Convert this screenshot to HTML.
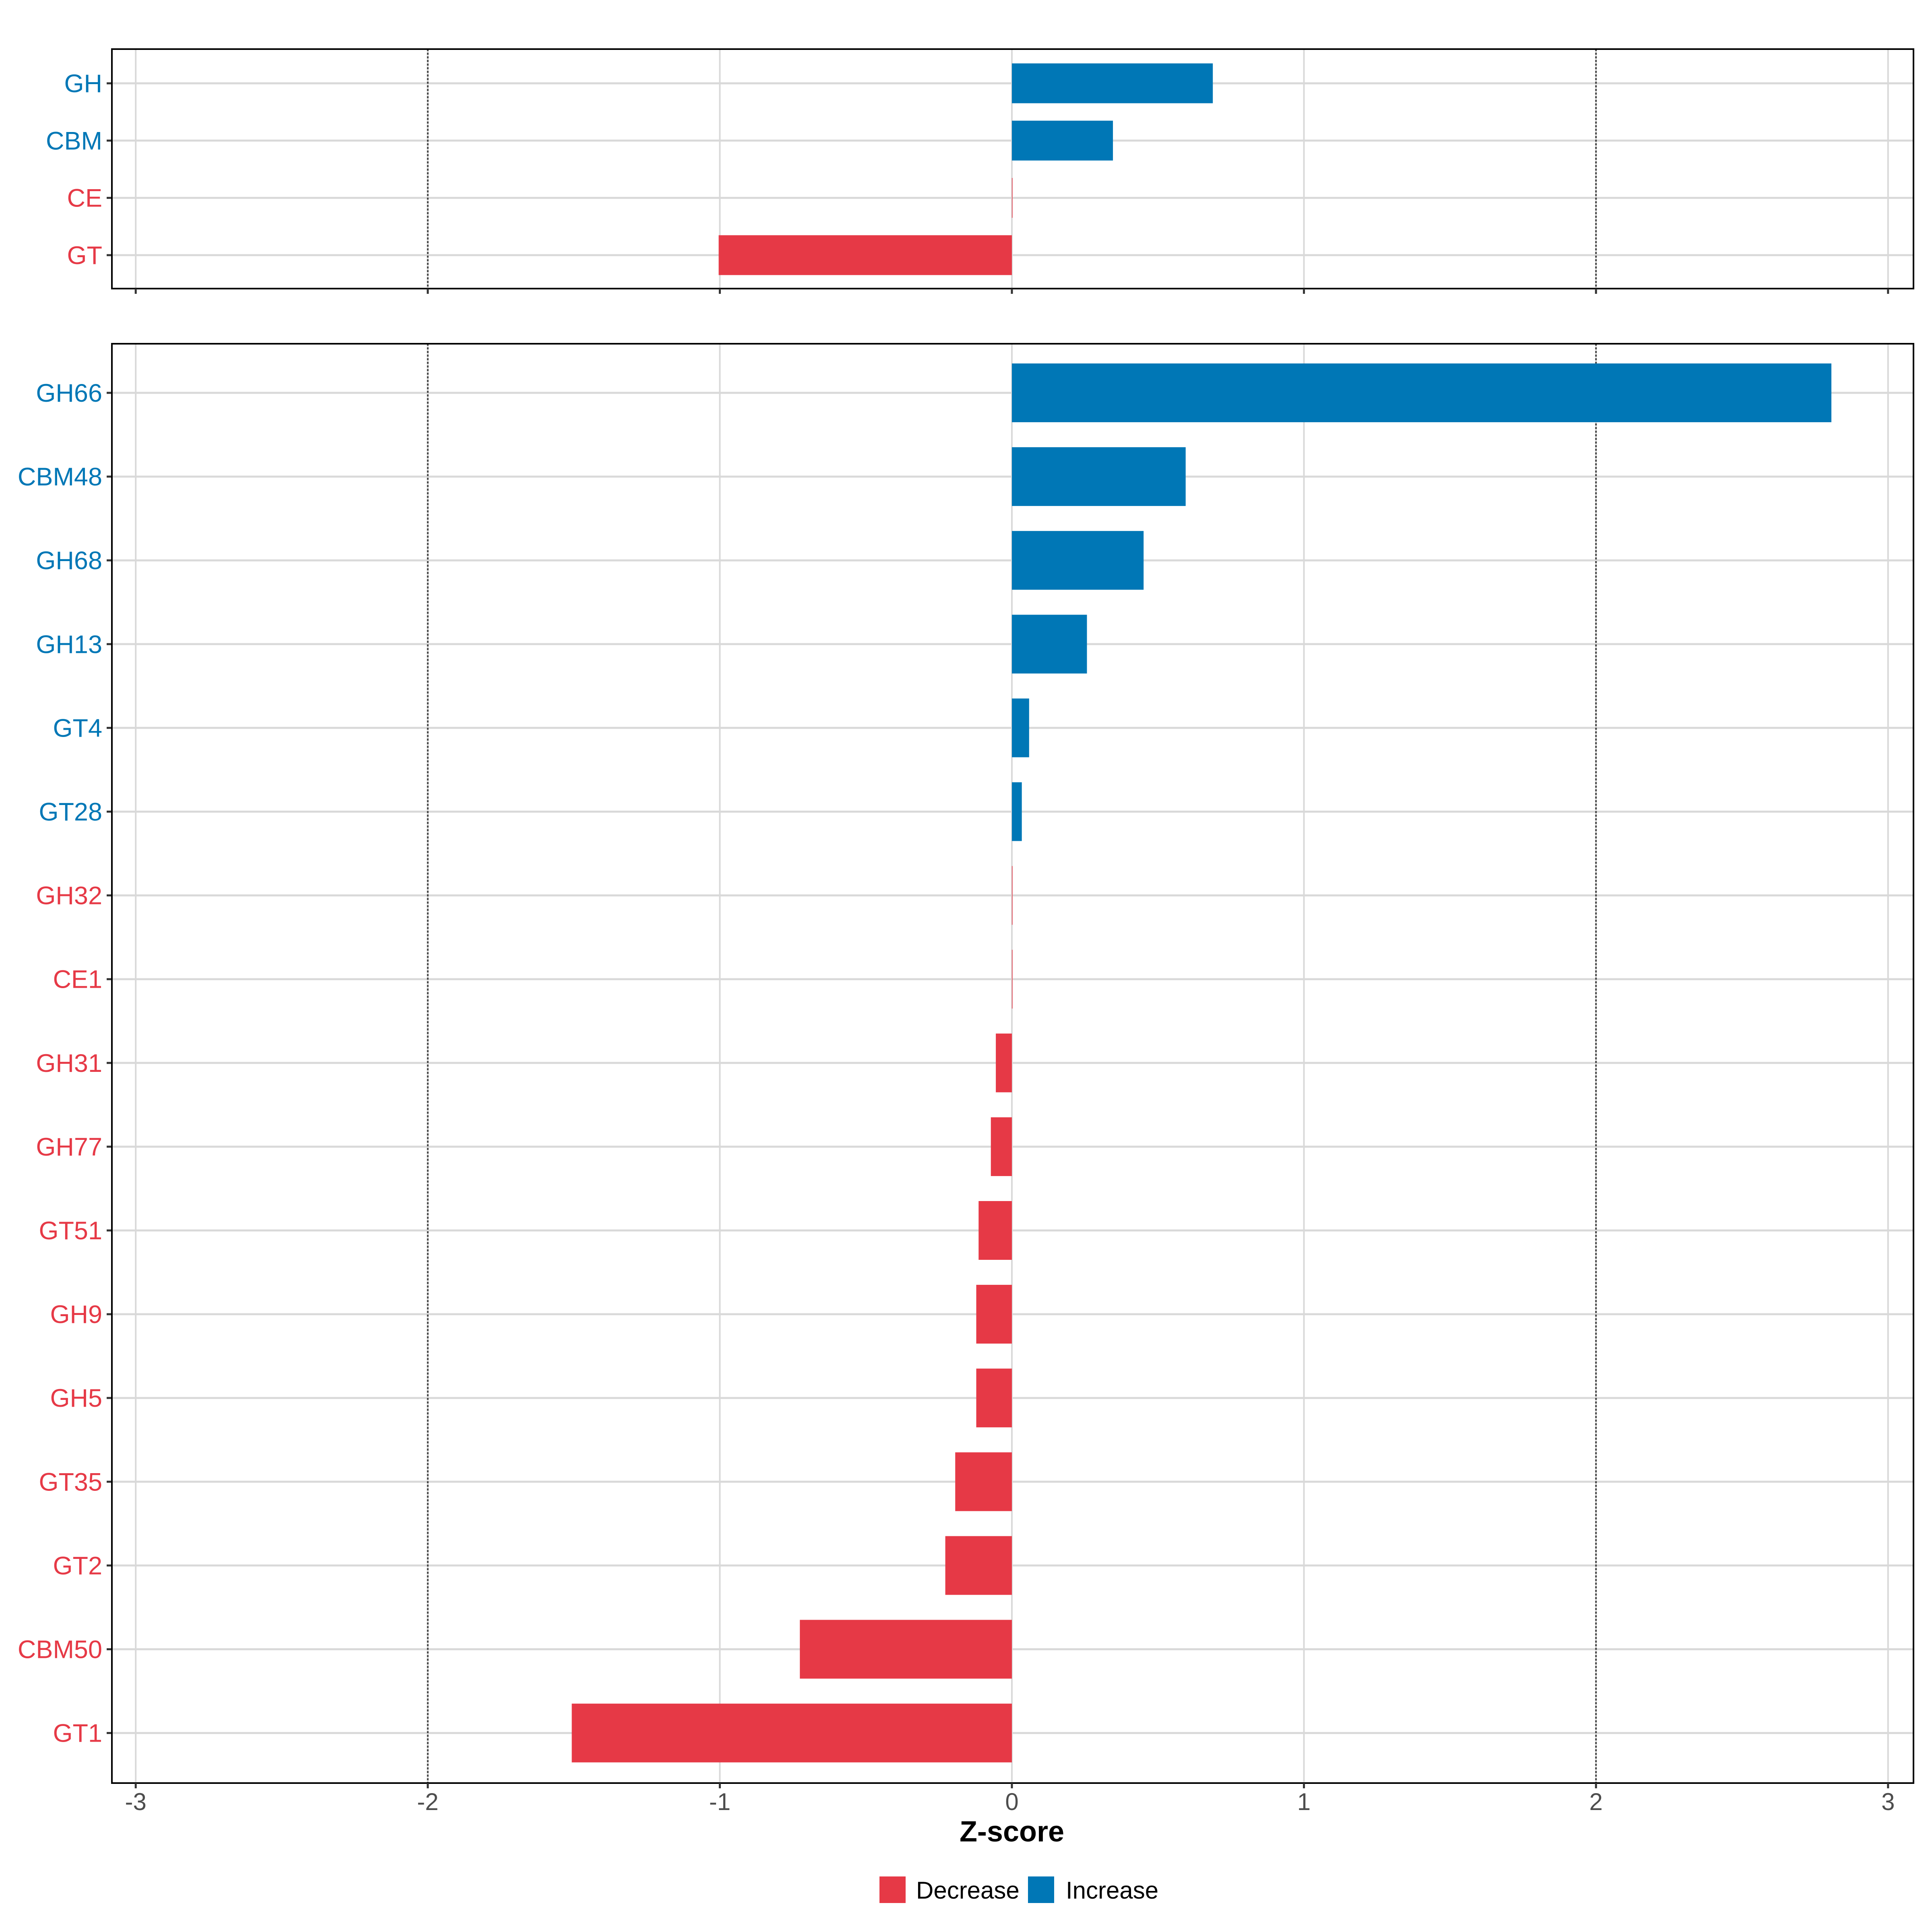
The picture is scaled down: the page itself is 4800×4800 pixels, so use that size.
<!DOCTYPE html>
<html><head><meta charset="utf-8"><style>html,body{margin:0;padding:0;background:#fff}svg{display:block}text{font-family:"Liberation Sans",sans-serif}</style></head>
<body>
<svg id="chart" width="4800" height="4800" viewBox="0 0 4800 4800" xmlns="http://www.w3.org/2000/svg"></svg>
<script>
const topCategories = ["GH","CBM","CE","GT"];
const topValues = [0.688,0.346,0,-1.004];
const bottomCategories = ["GH66","CBM48","GH68","GH13","GT4","GT28","GH32","CE1","GH31","GH77","GT51","GH9","GH5","GT35","GT2","CBM50","GT1"];
const bottomValues = [2.806,0.595,0.451,0.257,0.059,0.034,0,0,-0.055,-0.072,-0.114,-0.122,-0.122,-0.194,-0.228,-0.726,-1.507];
const xTicks = [-3,-2,-1,0,1,2,3];
const dashedTicks = [-2,2];

const NS="http://www.w3.org/2000/svg";
const svg=document.getElementById('chart');
const RED="#E63946", BLUE="#0077B6";
const X0=2514, UNIT=725.6;
const xs=v=>X0+v*UNIT;
const L=278, R=4754;
function el(tag,attrs,parent){const e=document.createElementNS(NS,tag);for(const k in attrs)e.setAttribute(k,attrs[k]);(parent||svg).appendChild(e);return e;}

function panel(name,cats,vals,top,bottom,firstY,step,barH,showLabels){
  const g=el('g',{});
  
  
  xTicks.forEach(t=>{
    const ln=el('line',{x1:xs(t),x2:xs(t),y1:top,y2:bottom,stroke:'#d9d9d9','stroke-width':4},g);
    
    
  });
  const ys=i=>firstY+i*step;
  cats.forEach((c,i)=>{
    const ln=el('line',{x1:L,x2:R,y1:ys(i),y2:ys(i),stroke:'#d9d9d9','stroke-width':5},g);
    
    
  });
  dashedTicks.forEach(t=>{
    const ln=el('line',{x1:xs(t),x2:xs(t),y1:top,y2:bottom,stroke:'#444','stroke-width':4,'stroke-dasharray':'5,4'},g);
    
    
  });
  cats.forEach((c,i)=>{
    const v=vals[i];
    const col=v>0?BLUE:RED;
    const x=Math.min(xs(0),xs(v)), w=Math.max(Math.abs(xs(v)-xs(0)),1.5);
    const b=el('rect',{x:x,y:ys(i)-barH/2,width:w,height:barH,fill:col},g);
    
    
    const tk=el('line',{x1:L-13,x2:L,y1:ys(i),y2:ys(i),stroke:'#333','stroke-width':5},g);
    
    
    const lb=el('text',{x:254,y:ys(i)+22,'text-anchor':'end','font-size':63,fill:col},g);
    lb.textContent=c;
    
    
  });
  const bd=el('rect',{x:L,y:top,width:R-L,height:bottom-top,fill:'none',stroke:'#000','stroke-width':4},g);
  
  
  xTicks.forEach(t=>{
    const tk=el('line',{x1:xs(t),x2:xs(t),y1:bottom,y2:bottom+13,stroke:'#333','stroke-width':5},g);
    
    
    if(showLabels){
      const lb=el('text',{x:xs(t),y:4497,'text-anchor':'middle','font-size':60,fill:'#4d4d4d'},g);
      lb.textContent=t;
      
      
    }
  });
}
panel('top-panel',topCategories,topValues,122,717,207,142.3,99,false);
panel('bottom-panel',bottomCategories,bottomValues,854,4430,976,208.1,146,true);

const xt=el('text',{x:2514,y:4575,'text-anchor':'middle','font-size':72,'font-weight':'bold',fill:'#000'});
xt.textContent='Z-score';



const lg=el('g',{});


const r1=el('rect',{x:2185,y:4662,width:65,height:66,fill:RED},lg);


const t1=el('text',{x:2276,y:4717,'font-size':60,fill:'#000'},lg);
t1.textContent='Decrease';


const r2=el('rect',{x:2554,y:4662,width:65,height:66,fill:BLUE},lg);


const t2=el('text',{x:2648,y:4717,'font-size':60,fill:'#000'},lg);
t2.textContent='Increase';


</script>
</body></html>
